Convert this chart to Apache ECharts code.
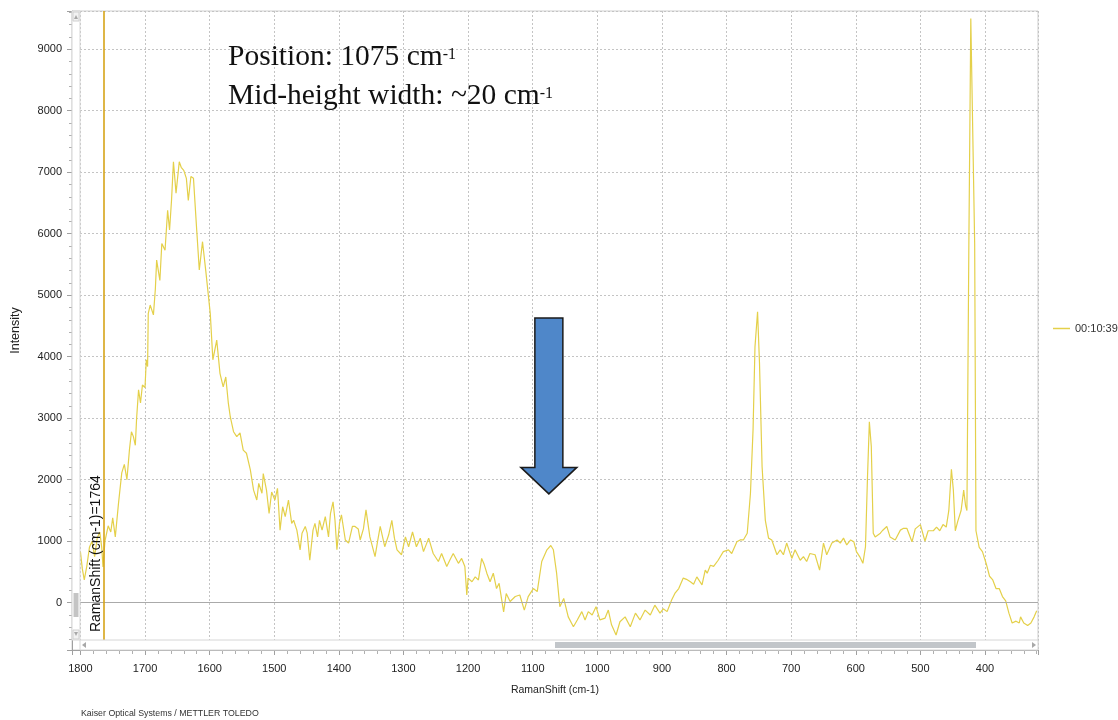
<!DOCTYPE html>
<html><head><meta charset="utf-8">
<script src="https://cdn.jsdelivr.net/npm/echarts@6/dist/echarts.min.js"></script>
<style>html,body{margin:0;padding:0;background:#fff}#c{width:1118px;height:720px}</style>
</head><body><div id="c"></div>
<script>
// ---- data ----
const seriesName = '00:10:39';
const markerShift = 1764;
const peakShift = 1075;
const ramanShift = [1800,1797,1794,1790,1786,1782,1778,1774,1770,1767,1765,1762,1757,1753,1750,1746,1741,1736,1732,1728,1724,1721,1718,1715,1713,1710,1707,1704,1700,1698,1696,1695,1692,1687,1684,1682,1677,1674,1669,1665,1662,1659,1656,1652,1647,1644,1640,1636,1633,1629,1625,1620,1616,1611,1606,1604,1602,1599,1595,1589,1584,1579,1575,1571,1568,1563,1558,1553,1548,1543,1537,1532,1527,1524,1519,1517,1512,1508,1504,1499,1495,1491,1487,1483,1478,1473,1470,1465,1460,1457,1452,1449,1445,1440,1437,1433,1430,1426,1421,1416,1413,1409,1406,1403,1399,1396,1390,1385,1379,1375,1370,1367,1362,1358,1352,1344,1340,1336,1329,1323,1318,1314,1310,1303,1297,1292,1286,1280,1274,1269,1261,1254,1246,1241,1233,1228,1223,1215,1210,1205,1202,1200,1194,1189,1184,1179,1175,1171,1166,1161,1156,1152,1145,1141,1135,1127,1120,1113,1107,1099,1093,1086,1078,1072,1068,1063,1058,1052,1045,1037,1031,1024,1019,1014,1008,1002,996,988,983,978,971,965,957,949,941,934,926,918,911,903,898,892,885,880,874,867,862,856,851,846,838,833,830,825,820,813,810,805,797,792,784,779,774,768,763,759,756,752,749,745,740,735,730,722,717,712,707,699,694,686,681,676,671,663,656,650,645,637,629,624,619,614,608,603,599,594,589,585,582,579,576,573,570,562,559,552,547,539,531,526,521,513,508,500,493,488,480,475,470,465,460,456,452,449,446,442,437,433,430,428,425,422,420,416,414,409,404,398,393,388,383,378,373,368,363,358,352,347,345,340,334,329,324,320];
const intensity = [830,550,370,600,900,1000,750,1050,1150,900,580,1000,1250,1150,1380,1070,1620,2110,2250,2000,2500,2780,2700,2560,3000,3460,3250,3540,3500,3950,3840,4700,4840,4680,5100,5570,5240,5840,5730,6380,6060,6540,7170,6660,7170,7080,7030,6900,6540,6930,6900,6060,5410,5870,5400,5200,5220,4700,3950,4270,3730,3510,3670,3240,3020,2780,2700,2760,2480,2430,2160,1830,1670,1940,1780,2100,1830,1450,1800,1670,1860,1180,1560,1400,1670,1290,1340,1180,860,1130,1240,1130,690,1180,1290,1070,1340,1180,1400,1070,1450,1640,1340,860,1290,1430,1020,970,1240,1240,1200,1020,1200,1510,1070,750,1000,1240,910,1100,1340,1050,860,780,1070,910,1150,910,1050,830,1050,800,670,800,590,700,800,640,720,590,125,400,340,420,370,720,620,480,340,480,230,315,-150,150,20,100,125,-120,100,230,180,670,860,930,860,480,-65,70,-230,-390,-280,-145,-280,-145,-200,-65,-280,-250,-120,-360,-525,-310,-230,-390,-170,-280,-120,-200,-40,-170,-100,-145,45,150,230,400,380,340,300,420,290,530,480,610,590,690,670,830,860,800,990,1020,1020,1130,1780,2810,4160,4730,3890,2210,1340,1050,1020,780,860,780,970,720,860,690,750,670,800,780,530,970,780,970,1020,970,1050,940,1020,990,830,750,640,910,2000,2940,2540,1130,1070,1130,1170,1240,1070,1020,1180,1210,1210,990,1200,1270,1000,1170,1170,1230,1170,1270,1230,1500,2170,1830,1170,1330,1500,1830,1570,1500,5830,9500,9500,5830,1170,900,830,630,430,370,230,230,100,30,-170,-330,-300,-330,-230,-330,-370,-330,-230,-130];

const points = ramanShift.map((x, i) => [x, intensity[i]]);
const FONT = '"Liberation Sans", Arial, sans-serif';
const chart = echarts.init(document.getElementById('c'), null, {renderer: 'canvas'});
const plain = v => String(Math.round(v));

const option = {
  animation: false,
  backgroundColor: '#fff',
  grid: {left: 72, right: 80, top: 11, bottom: 70, show: true, borderColor: '#cfcfcf', borderWidth: 1},
  legend: {
    data: [seriesName], orient: 'vertical', left: 1048, top: 318, padding: 5,
    icon: 'rect', itemWidth: 17, itemHeight: 1.5, itemGap: 6,
    textStyle: {fontSize: 11, color: '#333', fontFamily: FONT}
  },
  xAxis: {
    type: 'value', inverse: true, min: 318, max: 1813, splitNumber: 15,
    name: 'RamanShift (cm-1)', nameLocation: 'middle', nameGap: 35,
    nameTextStyle: {fontSize: 10.5, color: '#222', fontFamily: FONT},
    axisLine: {show: true, onZero: false, lineStyle: {color: '#a0a0a0'}},
    axisTick: {show: true, length: 5, lineStyle: {color: '#a0a0a0'}},
    minorTick: {show: true, splitNumber: 5, length: 4, lineStyle: {color: '#b0b0b0'}},
    axisLabel: {fontSize: 11, color: '#222', margin: 13, fontFamily: FONT, showMinLabel: false, showMaxLabel: false, formatter: plain},
    splitLine: {show: true, lineStyle: {color: '#c4c4c4', type: [2, 2], width: 1}}
  },
  yAxis: {
    type: 'value', min: -769, max: 9621, splitNumber: 10,
    name: 'Intensity', nameLocation: 'middle', nameGap: 50, nameRotate: 90,
    nameTextStyle: {fontSize: 12.5, color: '#222', fontFamily: FONT},
    axisLine: {show: true, onZero: false, lineStyle: {color: '#a0a0a0'}},
    axisTick: {show: true, length: 5, lineStyle: {color: '#a0a0a0'}},
    minorTick: {show: true, splitNumber: 5, length: 3, lineStyle: {color: '#b0b0b0'}},
    axisLabel: {fontSize: 11, color: '#222', margin: 10, fontFamily: FONT, showMinLabel: false, showMaxLabel: false, formatter: plain},
    splitLine: {show: true, lineStyle: {color: '#c4c4c4', type: [2, 2], width: 1}}
  },
  series: [{
    name: seriesName, type: 'line', data: points, showSymbol: false, silent: true,
    color: '#e4d04a',
    lineStyle: {color: '#e4d04a', width: 1.2},
    markLine: {
      silent: true, symbol: 'none', animation: false,
      data: [
        {yAxis: 0, lineStyle: {color: '#aaaaaa', type: 'solid', width: 1}, label: {show: false}},
        [
          {coord: [markerShift, -607], lineStyle: {color: '#d6a418', type: 'solid', width: 1.6},
           label: {show: true, position: 'insideStartTop', formatter: 'RamanShift (cm-1)=' + markerShift,
                   color: '#111', fontSize: 14, fontFamily: FONT, distance: [8, 1]}},
          {coord: [markerShift, 9621]}
        ]
      ]
    }
  }]
};
chart.setOption(option);

// ---- decorations: annotation text, arrow, scrollbars ----
const tip = chart.convertToPixel({gridIndex: 0}, [peakShift, 1770]);
const headTop = chart.convertToPixel({gridIndex: 0}, [peakShift, 2200]);
const shaftTop = chart.convertToPixel({gridIndex: 0}, [peakShift, 4630]);
const cx = tip[0], sw = 14, hw = 28;
const arrowPts = [
  [cx - sw, shaftTop[1]], [cx + sw, shaftTop[1]], [cx + sw, headTop[1]], [cx + hw, headTop[1]],
  [cx, tip[1]], [cx - hw, headTop[1]], [cx - sw, headTop[1]]
];

const Z = 100;
chart.setOption({
  graphic: [
    // vertical scrollbar (left)
    {type: 'rect', z: Z, shape: {x: 72, y: 11, width: 8, height: 629}, style: {fill: '#fff', stroke: '#d6d6d6', lineWidth: 1}},
    {type: 'rect', z: Z, shape: {x: 73, y: 12, width: 6, height: 9}, style: {fill: '#f2f2f2', stroke: '#d0d0d0'}},
    {type: 'polygon', z: Z, shape: {points: [[74, 19], [78, 19], [76, 15]]}, style: {fill: '#a8a8a8'}},
    {type: 'rect', z: Z, shape: {x: 73.5, y: 593, width: 5, height: 24}, style: {fill: '#c4c4c4'}},
    {type: 'rect', z: Z, shape: {x: 73, y: 630, width: 6, height: 9}, style: {fill: '#f2f2f2', stroke: '#d0d0d0'}},
    {type: 'polygon', z: Z, shape: {points: [[74, 632], [78, 632], [76, 636]]}, style: {fill: '#a8a8a8'}},
    // horizontal scrollbar (bottom)
    {type: 'rect', z: Z, shape: {x: 80, y: 640, width: 958, height: 10}, style: {fill: '#fff', stroke: '#d6d6d6', lineWidth: 1}},
    {type: 'polygon', z: Z, shape: {points: [[82, 645], [86, 642], [86, 648]]}, style: {fill: '#a8a8a8'}},
    {type: 'polygon', z: Z, shape: {points: [[1036, 645], [1032, 642], [1032, 648]]}, style: {fill: '#a8a8a8'}},
    {type: 'rect', z: Z, shape: {x: 555, y: 642, width: 421, height: 6}, style: {fill: '#c2c6ca'}},
    // blue arrow pointing at the 1075 band
    {type: 'polygon', z: Z, shape: {points: arrowPts}, style: {fill: '#4f87c9', stroke: '#1b1b1b', lineWidth: 1.5}},
    // annotation
    {type: 'text', z: Z, left: 228, top: 38, style: {
      text: 'Position: 1075 cm{sup|-1}\nMid-height width: ~20 cm{sup|-1}',
      font: '29.5px "Liberation Serif", "Times New Roman", serif', fill: '#111', lineHeight: 39,
      rich: {sup: {fontSize: 16, fontFamily: '"Liberation Serif", serif', fill: '#111', lineHeight: 39, padding: [0, 0, 5, 0]}}
    }},
    // footer
    {type: 'text', z: Z, left: 81, top: 709, style: {text: 'Kaiser Optical Systems / METTLER TOLEDO', font: '8.8px "Liberation Sans", Arial, sans-serif', fill: '#333'}}
  ]
});
</script>
</body></html>
